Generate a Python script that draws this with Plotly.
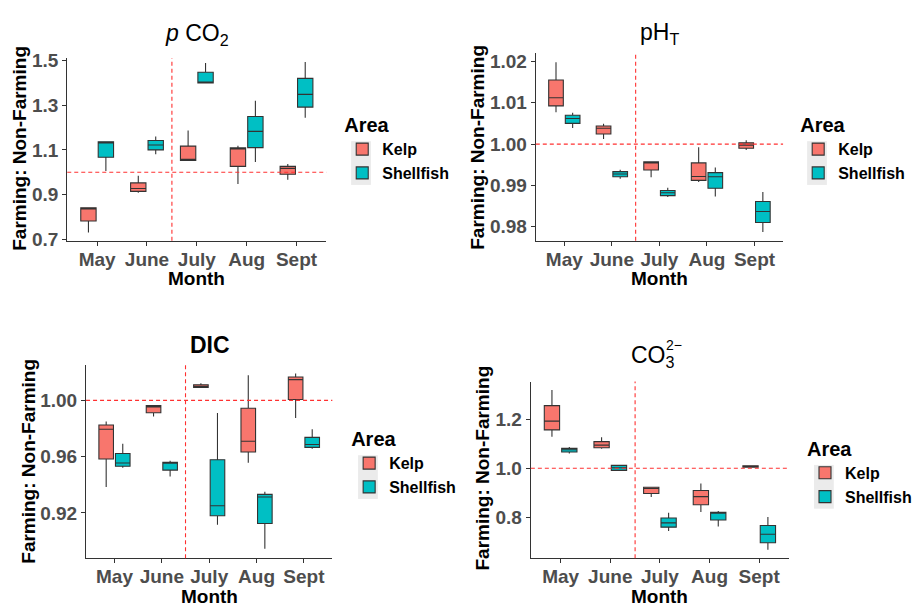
import plotly.graph_objects as go

months = ["May", "June", "July", "Aug", "Sept"]

# Per-month box statistics: (lower whisker, Q1, median, Q3, upper whisker)
pco2_kelp = [(0.730, 0.781, 0.838, 0.840, 0.840),
             (0.908, 0.914, 0.927, 0.952, 0.984),
             (1.053, 1.053, 1.056, 1.117, 1.187),
             (0.947, 1.026, 1.107, 1.109, 1.119),
             (0.966, 0.991, 1.017, 1.026, 1.037)]
pco2_shell = [(1.005, 1.067, 1.134, 1.136, 1.136),
              (1.081, 1.100, 1.122, 1.142, 1.160),
              (1.400, 1.400, 1.403, 1.448, 1.490),
              (1.046, 1.110, 1.183, 1.250, 1.320),
              (1.244, 1.292, 1.349, 1.421, 1.494)]

ph_kelp = [(1.00769, 1.00925, 1.01122, 1.01553, 1.01980),
           (1.00125, 1.00243, 1.00384, 1.00439, 1.00494),
           (0.99200, 0.99373, 0.99553, 0.99569, 0.99569),
           (0.99082, 0.99122, 0.99216, 0.99545, 0.99922),
           (0.99859, 0.99898, 0.99976, 1.00031, 1.00094)]
ph_shell = [(1.00392, 1.00502, 1.00620, 1.00698, 1.00761),
            (0.99161, 0.99208, 0.99278, 0.99333, 0.99380),
            (0.98722, 0.98753, 0.98824, 0.98878, 0.98941),
            (0.98729, 0.98933, 0.99208, 0.99310, 0.99435),
            (0.97875, 0.98102, 0.98369, 0.98612, 0.98839)]

dic_kelp = [(0.93844, 0.95827, 0.97948, 0.98248, 0.98501),
            (0.98847, 0.99124, 0.99539, 0.99631, 0.99677),
            (1.00922, 1.00922, 1.00968, 1.01107, 1.01222),
            (0.95573, 0.96334, 0.97095, 0.99447, 1.01798),
            (0.98755, 1.00069, 1.01476, 1.01660, 1.01914)]
dic_shell = [(0.95205, 0.95320, 0.95550, 0.96219, 0.96911),
             (0.94582, 0.95043, 0.95550, 0.95597, 0.95712),
             (0.91147, 0.91792, 0.92507, 0.95781, 0.99101),
             (0.89441, 0.91239, 0.93130, 0.93314, 0.93499),
             (0.96565, 0.96657, 0.96865, 0.97372, 0.97948)]

co3_kelp = [(1.1296, 1.1575, 1.1934, 1.2571, 1.3209),
            (1.0804, 1.0844, 1.0950, 1.1096, 1.1269),
            (0.8824, 0.8970, 0.9170, 0.9223, 0.9223),
            (0.8213, 0.8505, 0.8837, 0.9090, 0.9382),
            (1.0033, 1.0047, 1.0073, 1.0100, 1.0126)]
co3_shell = [(1.0605, 1.0671, 1.0764, 1.0817, 1.0870),
             (0.9900, 0.9914, 1.0020, 1.0120, 1.0146),
             (0.7429, 0.7588, 0.7761, 0.7960, 0.8173),
             (0.7615, 0.7880, 0.8173, 0.8200, 0.8253),
             (0.6658, 0.6950, 0.7296, 0.7654, 0.8000)]

W, H = 917, 611
FONT = "Liberation Sans, Arial, sans-serif"
KELP_COLOR = "#F8766D"
SHELL_COLOR = "#00BFC4"
LINE_COLOR = "#333333"
REF_COLOR = "#FF3030"

# Panel layout in pixels: (left, top, right, bottom), y range, tick settings
panels = [
    dict(kelp=pco2_kelp, shell=pco2_shell, box=(68, 51.7, 330, 239.3),
         yrange=(0.693, 1.511), tick0=0.7, dtick=0.2, fmt=".1f",
         legend_xy=(346, 101)),
    dict(kelp=ph_kelp, shell=ph_shell, box=(541.7, 46.7, 791.7, 239.3),
         yrange=(0.97663, 1.02196), tick0=0.98, dtick=0.01, fmt=".2f",
         legend_xy=(807, 101)),
    dict(kelp=dic_kelp, shell=dic_shell, box=(87, 367.3, 336, 566),
         yrange=(0.88772, 1.02513), tick0=0.92, dtick=0.04, fmt=".2f",
         legend_xy=(353, 424)),
    dict(kelp=co3_kelp, shell=co3_shell, box=(536.7, 384.3, 797.7, 566),
         yrange=(0.6312, 1.3555), tick0=0.8, dtick=0.2, fmt=".1f",
         legend_xy=(814, 434)),
]

fig = go.Figure()
shapes = []
annotations = []

tick_font = dict(family=FONT, size=19, color="#4d4d4d", weight="bold")

for i, p in enumerate(panels, start=1):
    sfx = "" if i == 1 else str(i)
    xa, ya = "x" + sfx, "y" + sfx
    leg = "legend" + sfx
    for name, stats, color in (("Kelp", p["kelp"], KELP_COLOR),
                               ("Shellfish", p["shell"], SHELL_COLOR)):
        fig.add_trace(go.Box(
            name=name, x=months,
            lowerfence=[s[0] for s in stats],
            q1=[s[1] for s in stats],
            median=[s[2] for s in stats],
            q3=[s[3] for s in stats],
            upperfence=[s[4] for s in stats],
            fillcolor=color, line=dict(color=LINE_COLOR, width=1.1),
            whiskerwidth=0, boxpoints=False, offsetgroup=name,
            xaxis=xa, yaxis=ya, legend=leg, hoverinfo="skip",
        ))

    l, t, r, b = p["box"]
    axis_common = dict(
        showline=True, linecolor="#333333", linewidth=1.2,
        ticks="outside", ticklen=4, tickcolor="#333333", tickwidth=1,
        showgrid=False, zeroline=False, tickfont=tick_font,
    )
    fig.layout["xaxis" + sfx] = dict(
        domain=[l / W, r / W], anchor=ya, type="category",
        categoryorder="array", categoryarray=months, range=[-0.6, 4.6],
        ticklabelstandoff=-3, **axis_common,
    )
    fig.layout["yaxis" + sfx] = dict(
        domain=[1 - b / H, 1 - t / H], anchor=xa, range=list(p["yrange"]),
        tick0=p["tick0"], dtick=p["dtick"], tickformat=p["fmt"],
        **axis_common,
    )

    # Reference lines: ratio of 1 and the June/July boundary
    shapes.append(dict(type="line", xref=xa + " domain", yref=ya,
                       x0=0, x1=1, y0=1.0, y1=1.0,
                       line=dict(color=REF_COLOR, width=1.1, dash="4px,3px")))
    shapes.append(dict(type="line", xref=xa, yref=ya + " domain",
                       x0=1.5, x1=1.5, y0=0, y1=1,
                       line=dict(color=REF_COLOR, width=1.1, dash="4px,3px")))

    lx, ly = p["legend_xy"]
    fig.layout[leg] = dict(
        x=lx / W, y=1 - ly / H, xanchor="left", yanchor="top",
        title=dict(text="<b>Area</b>", font=dict(family=FONT, size=20, color="black")),
        font=dict(family=FONT, size=16, color="black", weight="bold"),
        bgcolor="rgba(0,0,0,0)", tracegroupgap=0, itemwidth=30,
    )
    # Grey panel behind the legend keys
    shapes.append(dict(type="rect", xref="paper", yref="paper", layer="below",
                       x0=(lx + 9) / W, x1=(lx + 29) / W,
                       y0=1 - (ly + 81) / H, y1=1 - (ly + 36) / H,
                       fillcolor="#EBEBEB", line=dict(width=0)))

    cx = (l + r) / 2
    annotations.append(dict(text="<b>Month</b>", x=cx / W, y=1 - (b + 39) / H,
                            xref="paper", yref="paper", showarrow=False,
                            font=dict(family=FONT, size=19, color="black"),
                            xanchor="center", yanchor="middle"))

# Y-axis titles
for (x, y) in ((20, 144), (482, 143), (28, 466), (488, 473)):
    annotations.append(dict(text="<b>Farming: Non-Farming</b>", x=x / W, y=1 - y / H,
                            xref="paper", yref="paper", showarrow=False, textangle=-90,
                            font=dict(family=FONT, size=19, color="black"),
                            xanchor="center", yanchor="middle"))

# Panel titles
title_font = dict(family=FONT, size=23, color="black")
annotations += [
    dict(text="<i>p</i> CO<sub>2</sub>", x=199 / W, y=1 - 27 / H),
    dict(text="pH<sub>T</sub>", x=667 / W, y=1 - 26 / H),
    dict(text="<b>DIC</b>", x=212 / W, y=1 - 347 / H),
    dict(text="CO<sub>3</sub>", x=660 / W, y=1 - 358 / H),
    dict(text="2\u2212", x=671 / W, y=1 - 347 / H, xanchor="left",
         font=dict(family=FONT, size=14, color="black")),
]
for a in annotations[-5:]:
    a.setdefault("xanchor", "center")
    a.setdefault("font", title_font)
    a.update(xref="paper", yref="paper", showarrow=False, yanchor="middle")

fig.update_layout(
    width=W, height=H, margin=dict(l=0, r=0, t=0, b=0),
    paper_bgcolor="white", plot_bgcolor="white",
    boxmode="group", boxgap=0.30, boxgroupgap=0.12,
    shapes=shapes, annotations=annotations, showlegend=True,
)

fig.write_html("out.html")
